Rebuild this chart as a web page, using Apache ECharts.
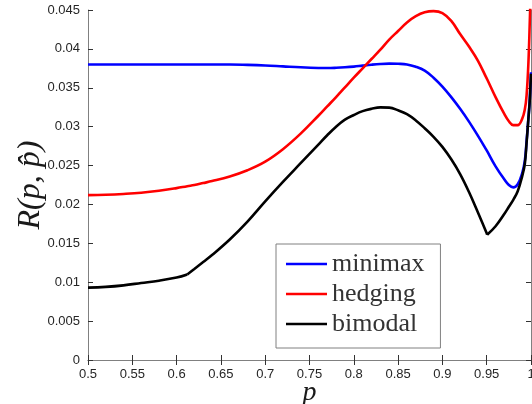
<!DOCTYPE html>
<html>
<head>
<meta charset="utf-8">
<script src="https://cdn.jsdelivr.net/npm/echarts@6/dist/echarts.min.js"></script>
<style>
  html, body { margin: 0; padding: 0; background: #ffffff; }
  #chart { width: 532px; height: 404px; }
</style>
</head>
<body>
<div id="chart"></div>
<script>
// Risk R(p, p-hat) of three estimators as a function of p
const pGrid = [0.50, 0.52, 0.54, 0.56, 0.58, 0.60, 0.612, 0.62, 0.63, 0.64, 0.66, 0.68,
  0.70, 0.72, 0.74, 0.76, 0.77, 0.78, 0.79, 0.80, 0.81, 0.82, 0.83, 0.84, 0.85, 0.86,
  0.87, 0.88, 0.89, 0.90, 0.91, 0.92, 0.93, 0.94, 0.95, 0.9505, 0.96, 0.97, 0.975, 0.98,
  0.985, 0.99, 0.993, 0.995, 0.997, 0.9985, 1.0];

const minimaxRisk = [0.0380, 0.0380, 0.0380, 0.0380, 0.0380, 0.0380, 0.0380, 0.0380, 0.0380, 0.0380, 0.03800, 0.03795,
  0.03787, 0.03775, 0.03763, 0.03755, 0.03754, 0.03757, 0.03763, 0.03772, 0.03785, 0.03797, 0.03806, 0.03810, 0.03808, 0.03800,
  0.03770, 0.03720, 0.03630, 0.03515, 0.03380, 0.03230, 0.03065, 0.02885, 0.02695, 0.02685, 0.02490, 0.02320, 0.02250, 0.02220,
  0.02260, 0.02400, 0.02560, 0.02810, 0.03100, 0.03330, 0.03700];

const hedgingRisk = [0.02120, 0.02125, 0.02135, 0.02150, 0.02175, 0.02210, 0.02235, 0.02250, 0.02275, 0.02300, 0.02360, 0.02440,
  0.02550, 0.02710, 0.02910, 0.03140, 0.03260, 0.03380, 0.03505, 0.03630, 0.03750, 0.03870, 0.03990, 0.04120, 0.04230, 0.04340,
  0.04420, 0.04470, 0.04485, 0.04460, 0.04360, 0.04190, 0.04030, 0.03850, 0.03620, 0.03610, 0.03380, 0.03160, 0.03070, 0.03020,
  0.03020, 0.03100, 0.03220, 0.03400, 0.03800, 0.04300, 0.04900];

const bimodalRisk = [0.0093, 0.0094, 0.0096, 0.0099, 0.0102, 0.0106, 0.0110, 0.0117, 0.0126, 0.0135, 0.0155, 0.0178,
  0.0204, 0.0229, 0.0253, 0.0277, 0.0289, 0.0300, 0.0309, 0.0315, 0.0320, 0.0323, 0.03248, 0.03245, 0.0321, 0.0316,
  0.0308, 0.0298, 0.0287, 0.0274, 0.0258, 0.0239, 0.0216, 0.0190, 0.0163, 0.0161, 0.0172, 0.0188, 0.0197, 0.0206,
  0.0217, 0.0236, 0.0252, 0.0279, 0.0309, 0.0332, 0.0368];

// p values where the bimodal curve has corners
const bimodalKinks = [0.612, 0.9505];

const seriesNames = ['minimax', 'hedging', 'bimodal'];
const seriesColors = ['#0000ff', '#ff0000', '#000000'];

const xTickLabels = ['0.5', '0.55', '0.6', '0.65', '0.7', '0.75', '0.8', '0.85', '0.9', '0.95', '1'];
const yTickLabels = ['0', '0.005', '0.01', '0.015', '0.02', '0.025', '0.03', '0.035', '0.04', '0.045'];

const pairs = (vals) => pGrid.map((p, i) => [p, vals[i]]);

// split a curve into smooth pieces that meet at the corner points
function splitAt(points, cuts) {
  const pieces = [];
  let current = [];
  points.forEach((pt) => {
    current.push(pt);
    if (cuts.indexOf(pt[0]) >= 0) {
      pieces.push(current);
      current = [pt];
    }
  });
  pieces.push(current);
  return pieces;
}

function lineSeries(name, color, data) {
  return {
    name: name,
    type: 'line',
    xAxisIndex: 0,
    yAxisIndex: 0,
    data: data,
    showSymbol: false,
    symbol: 'none',
    smooth: 0.4,
    clip: true,
    color: color,
    lineStyle: { color: color, width: 2.6 }
  };
}

const series = [
  lineSeries(seriesNames[0], seriesColors[0], pairs(minimaxRisk)),
  lineSeries(seriesNames[1], seriesColors[1], pairs(hedgingRisk))
].concat(splitAt(pairs(bimodalRisk), bimodalKinks).map((piece) =>
  lineSeries(seriesNames[2], seriesColors[2], piece)));

const chart = echarts.init(document.getElementById('chart'), null, { renderer: 'canvas' });

const frameColor = '#808080';
const tickStyle = { show: true, inside: true, length: 5, lineStyle: { color: '#333333', width: 1 } };

chart.setOption({
  animation: false,
  backgroundColor: '#ffffff',
  grid: { left: 88, top: 10, width: 443, height: 350, containLabel: false, outerBoundsMode: 'none' },
  legend: {
    orient: 'vertical',
    left: 276,
    top: 244,
    padding: [5, 16, 9, 10],
    icon: 'rect',
    itemWidth: 41,
    itemHeight: 2.5,
    itemGap: 0,
    borderColor: frameColor,
    borderWidth: 1,
    backgroundColor: '#ffffff',
    textStyle: { fontFamily: 'Liberation Serif', fontSize: 26, color: '#333333', lineHeight: 30 },
    data: seriesNames
  },
  xAxis: [
    {
      type: 'value', min: 0.5, max: 1, interval: 0.05, position: 'bottom',
      axisLine: { lineStyle: { color: frameColor, width: 1 } },
      axisTick: tickStyle,
      splitLine: { show: false },
      axisLabel: {
        margin: 8, fontFamily: 'Liberation Sans', fontSize: 13, color: '#262626',
        formatter: (v) => xTickLabels[Math.round((v - 0.5) / 0.05)]
      },
      name: 'p', nameLocation: 'middle', nameGap: 19, nameMoveOverlap: false,
      nameTextStyle: { fontFamily: 'Liberation Serif', fontStyle: 'italic', fontSize: 28, color: '#1a1a1a' }
    },
    {
      type: 'value', min: 0.5, max: 1, interval: 0.05, position: 'top',
      axisLine: { show: true, lineStyle: { color: frameColor, width: 1 } },
      axisTick: tickStyle,
      axisLabel: { show: false },
      splitLine: { show: false }
    }
  ],
  yAxis: [
    {
      type: 'value', min: 0, max: 0.045, interval: 0.005, position: 'left',
      axisLine: { show: true, lineStyle: { color: frameColor, width: 1 } },
      axisTick: tickStyle,
      splitLine: { show: false },
      axisLabel: {
        margin: 8, fontFamily: 'Liberation Sans', fontSize: 13, color: '#262626',
        formatter: (v) => yTickLabels[Math.round(v / 0.005)]
      },
      name: 'R(p, p\u0302)', nameLocation: 'middle', nameRotate: 90, nameGap: 41, nameMoveOverlap: false,
      nameTextStyle: { fontFamily: 'Liberation Serif', fontStyle: 'italic', fontSize: 32, color: '#1a1a1a' }
    },
    {
      type: 'value', min: 0, max: 0.045, interval: 0.005, position: 'right',
      axisLine: { show: true, lineStyle: { color: frameColor, width: 1 } },
      axisTick: tickStyle,
      axisLabel: { show: false },
      splitLine: { show: false }
    }
  ],
  series: series
});
</script>
</body>
</html>
